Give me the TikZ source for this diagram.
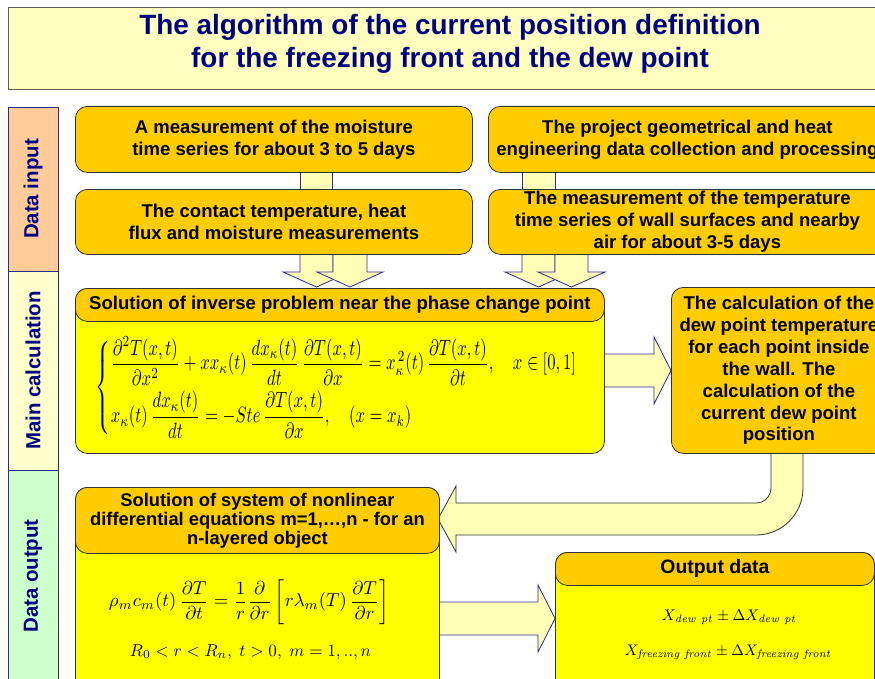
\documentclass[tikz,border=0pt]{standalone}
\usepackage[no-math]{fontspec}
\setmainfont{Liberation Sans}
\usepackage{amsmath}
\usepackage{graphicx}
\definecolor{gold}{HTML}{FFCC00}
\definecolor{bodyyel}{HTML}{FFFF00}
\definecolor{pale}{HTML}{FFFFB8}
\definecolor{titlefill}{HTML}{FFFFC0}
\definecolor{navy}{HTML}{000080}
\definecolor{navyline}{HTML}{2B2B8C}
\definecolor{peach}{HTML}{FFCC99}
\definecolor{paleband}{HTML}{FFFFCC}
\definecolor{mint}{HTML}{CCFFCC}
\definecolor{boxline}{HTML}{333333}
\begin{document}
\begin{tikzpicture}[x=1bp,y=-1bp,
  boxfont/.style={font=\fontsize{18.6}{22}\selectfont\bfseries},
  gbox/.style={draw=boxline, fill=gold, rounded corners=12bp, line width=0.8bp, inner sep=0pt, align=center, boxfont, anchor=north west},
  ybox/.style={draw=boxline, fill=bodyyel, rounded corners=12bp, line width=0.8bp, inner sep=0pt, anchor=north west},
  band/.style={draw=navyline, line width=0.8bp, rotate=90, minimum height=50bp, inner sep=0pt, text=navy, font=\fontsize{20.5}{24}\selectfont\bfseries},
  blockarrow/.style={fill=pale, draw=navyline, line width=0.8bp, line join=miter},
  uarrow/.style={fill=pale, draw=boxline, line width=0.8bp, line join=miter}
]
\useasboundingbox (0,0) rectangle (875,679);
\fill[white] (0,0) rectangle (875,679);
\begin{scope}
\clip (0,0) rectangle (875,679);
% title
\node[draw=boxline!80, fill=titlefill, line width=0.8bp, minimum width=884bp, minimum height=82bp, anchor=north west, inner sep=0pt] (titlebox) at (8,7) {};
\node[font=\fontsize{28}{33}\selectfont\bfseries, text=navy, align=center, inner sep=0pt] (title) at (450,43.5) {The algorithm of the current position definition\\for the freezing front and the dew point};
% bands
\node[band, fill=peach, minimum width=164bp] (bandin) at (33,189) {Data input};
\node[band, fill=paleband, minimum width=199bp] (bandcalc) at (33,370.5) {Main calculation};
\node[band, fill=mint, minimum width=212bp] (bandout) at (33,576) {Data output};
% connectors (drawn below the boxes)
\draw[blockarrow] (300,168) rectangle (332,193);
\draw[blockarrow] (522,168) rectangle (555,193);
\draw[blockarrow] (300,250) -- (300,272) -- (283,272) -- (316.5,287) -- (350,272) -- (333,272) -- (333,250) -- cycle;
\draw[blockarrow] (333,250) -- (333,272) -- (317,272) -- (350,287) -- (383,272) -- (367,272) -- (367,250) -- cycle;
\draw[blockarrow] (522,250) -- (522,272) -- (505,272) -- (538.5,287) -- (572,272) -- (555,272) -- (555,250) -- cycle;
\draw[blockarrow] (555,250) -- (555,272) -- (538,272) -- (571.5,287) -- (605,272) -- (588,272) -- (588,250) -- cycle;
\draw[blockarrow] (598,354) -- (654,354) -- (654,337) -- (671,370.5) -- (654,404) -- (654,387) -- (598,387) -- cycle;
\draw[uarrow] (771,447) -- (771,488) .. controls (771,496.3) and (764.3,503) .. (756,503) -- (456,503) -- (456,486) -- (438,519) -- (456,552) -- (456,535) -- (756,535) .. controls (782,535) and (803,514) .. (803,488) -- (803,447) -- cycle;
\draw[blockarrow] (433,602) -- (538,602) -- (538,585) -- (555,618.5) -- (538,652) -- (538,635) -- (433,635) -- cycle;
% input boxes
\node[gbox, minimum width=397bp, minimum height=66bp] (moist) at (75,106) {A measurement of the moisture\\time series for about 3 to 5 days};
\node[gbox, minimum width=397bp, minimum height=65bp] (contact) at (75,189) {The contact temperature, heat\\flux and moisture measurements};
\node[gbox, minimum width=398bp, minimum height=66bp] (project) at (488,106) {The project geometrical and heat\\engineering data collection and processing};
\node[gbox, minimum width=398bp, minimum height=65bp] (wallt) at (488,189) {The measurement of the temperature\\time series of wall surfaces and nearby\\air for about 3-5 days};
% main calculation
\node[ybox, minimum width=529bp, minimum height=165bp] (invbody) at (75,288) {};
\node[gbox, minimum width=529bp, minimum height=33bp] (invhead) at (75,288) {Solution of inverse problem near the phase change point};
\node[inner sep=0pt] (inveq) at (337,387.5) {\resizebox*{482bp}{101bp}{$\left\{\begin{array}{@{}l@{}}
 \dfrac{\partial^2 T(x,t)}{\partial x^2} + x x_\kappa(t)\,\dfrac{dx_\kappa(t)}{dt}\,\dfrac{\partial T(x,t)}{\partial x} = x_\kappa^{\,2}(t)\,\dfrac{\partial T(x,t)}{\partial t},\quad x\in[0,1]\\[6pt]
 x_\kappa(t)\,\dfrac{dx_\kappa(t)}{dt} = -Ste\,\dfrac{\partial T(x,t)}{\partial x},\quad (x=x_k)
 \end{array}\right.$}};
\node[gbox, minimum width=215bp, minimum height=166bp] (dew) at (671,287) {The calculation of the\\dew point temperature\\for each point inside\\the wall. The\\calculation of the\\current dew point\\position};
% output
\node[ybox, minimum width=364bp, minimum height=240bp] (sysbody) at (75,487) {};
\node[gbox, minimum width=364bp, minimum height=66bp, font=\fontsize{18.4}{19}\selectfont\bfseries] (syshead) at (75,487) {Solution of system of nonlinear\\differential equations m=1,\dots,n - for an\\n-layered object};
\node[inner sep=0pt] (syseq) at (249,602) {\resizebox{280bp}{!}{$\rho_m c_m(t)\,\dfrac{\partial T}{\partial t} = \dfrac{1}{r}\dfrac{\partial}{\partial r}\left[r\lambda_m(T)\,\dfrac{\partial T}{\partial r}\right]$}};
\node[inner sep=0pt] (sysrange) at (250.5,652) {\resizebox{241bp}{!}{$R_0 < r < R_n,\ t > 0,\ m = 1,..,n$}};
\node[ybox, minimum width=319bp, minimum height=180bp] (outbody) at (555,552) {};
\node[gbox, minimum width=319bp, minimum height=33bp, font=\fontsize{19.5}{22}\selectfont\bfseries] (outhead) at (555,552) {Output data};
\node[inner sep=0pt] (outdew) at (729.5,617) {\resizebox{135bp}{!}{$X_{\mathit{dew\ pt}} \pm \Delta X_{\mathit{dew\ pt}}$}};
\node[inner sep=0pt] (outfreeze) at (728.5,652) {\resizebox{207bp}{!}{$X_{\mathit{freezing\ front}} \pm \Delta X_{\mathit{freezing\ front}}$}};
\end{scope}
\end{tikzpicture}
\end{document}
